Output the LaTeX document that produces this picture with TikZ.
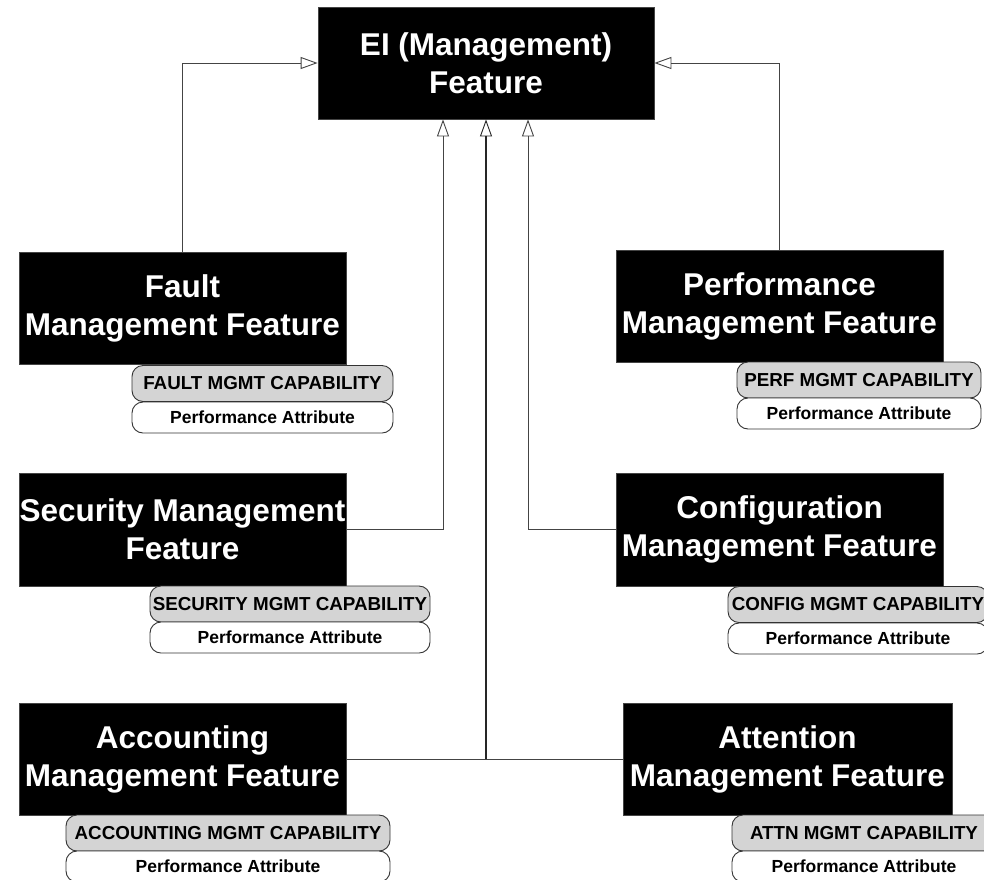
\documentclass[tikz,border=0pt]{standalone}
\usepackage{fontspec}
\setmainfont{Liberation Sans}
\usetikzlibrary{arrows.meta}

\definecolor{linegray}{HTML}{444444}
\definecolor{capfill}{HTML}{D4D4D4}

\begin{document}
\begin{tikzpicture}[x=1pt,y=-1pt,
  featbox/.style={rectangle, fill=black, draw=linegray, line width=0.8pt,
    inner sep=0pt, text=white, align=center,
    font=\bfseries\fontsize{31.5}{38}\selectfont},
  capbox/.style={rectangle, rounded corners=11pt, fill=capfill, draw=black!80,
    line width=0.9pt, inner sep=0pt, minimum height=36pt,
    font=\bfseries\fontsize{18.8}{22}\selectfont},
  attrbox/.style={rectangle, rounded corners=11pt, fill=white, draw=black!80,
    line width=0.9pt, inner sep=0pt, minimum height=31pt,
    font=\bfseries\fontsize{17.5}{21}\selectfont},
  inherit/.style={draw=linegray, line width=0.9pt,
    -{Triangle[length=17pt, width=12pt, fill=white, line width=0.9pt]}},
  link/.style={draw=linegray, line width=0.9pt}]

\useasboundingbox (0,0) rectangle (984,879);

% parent feature
\node[featbox, minimum width=336pt, minimum height=112pt] (top) at (486,63)
  {EI (Management)\\Feature};

% specialised features
\node[featbox, minimum width=327pt, minimum height=112pt] (fault) at (182.5,308)
  {Fault\\Management Feature};
\node[featbox, minimum width=327pt, minimum height=112pt] (perf) at (779.5,306)
  {Performance\\Management Feature};
\node[featbox, minimum width=327pt, minimum height=113pt] (sec) at (182.5,529.5)
  {Security Management\\Feature};
\node[featbox, minimum width=327pt, minimum height=113pt] (conf) at (779.5,529.5)
  {Configuration\\Management Feature};
\node[featbox, minimum width=327pt, minimum height=112pt] (acct) at (182.5,759)
  {Accounting\\Management Feature};
\node[featbox, minimum width=329pt, minimum height=112pt] (attn) at (787.5,759)
  {Attention\\Management Feature};

% capability / attribute tags
\node[capbox, minimum width=261pt] (faultcap) at (262.5,383.5) {FAULT MGMT CAPABILITY};
\node[attrbox, minimum width=261pt] (faultattr) at (262.5,417.5) {Performance Attribute};

\node[capbox, minimum width=244pt] (perfcap) at (859,380) {PERF MGMT CAPABILITY};
\node[attrbox, minimum width=244pt] (perfattr) at (859,413.5) {Performance Attribute};

\node[capbox, minimum width=280pt] (seccap) at (290,604) {SECURITY MGMT CAPABILITY};
\node[attrbox, minimum width=280pt] (secattr) at (290,637.5) {Performance Attribute};

\node[capbox, minimum width=260pt] (confcap) at (858,604.5) {CONFIG MGMT CAPABILITY};
\node[attrbox, minimum width=260pt] (confattr) at (858,638.5) {Performance Attribute};

\node[capbox, minimum width=324pt] (acctcap) at (228,833) {ACCOUNTING MGMT CAPABILITY};
\node[attrbox, minimum width=324pt] (acctattr) at (228,866.5) {Performance Attribute};

\node[capbox, minimum width=264pt] (attncap) at (864,833) {ATTN MGMT CAPABILITY};
\node[attrbox, minimum width=264pt] (attnattr) at (864,866.5) {Performance Attribute};

% generalisation connectors
\draw[inherit] (fault.north) |- (top.west);
\draw[inherit] (perf.north) |- (top.east);
\draw[inherit] (sec.east) -| ([xshift=-43pt]top.south);
\draw[inherit] (conf.west) -| ([xshift=42pt]top.south);
\draw[link] (acct.east) -- (attn.west);
\draw[inherit, draw=black!85, line width=1.2pt] (acct.east -| top.south) -- (top.south);

\end{tikzpicture}
\end{document}
